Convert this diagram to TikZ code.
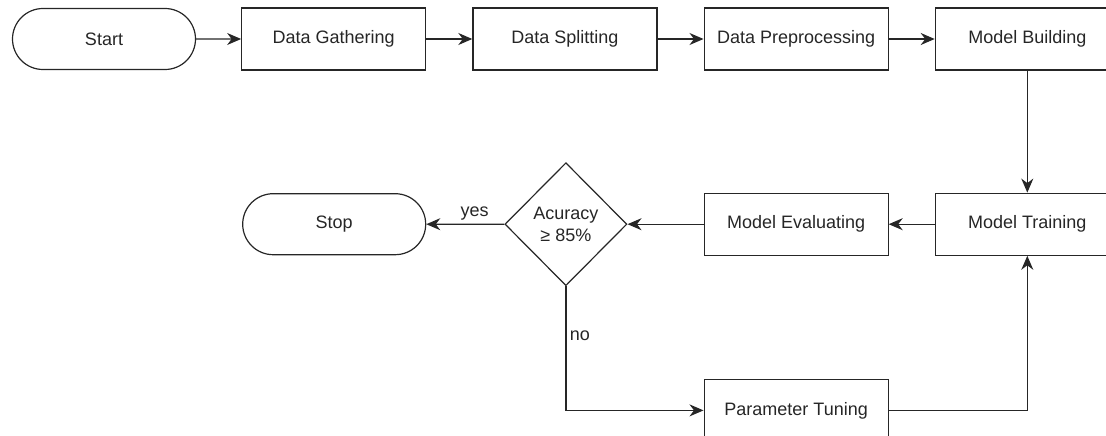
\documentclass[tikz,border=0pt]{standalone}
\usepackage{fontspec}
\setmainfont{Liberation Sans}
\usepackage{tikz}
\usetikzlibrary{arrows.meta,shapes,positioning}

\begin{document}
\begin{tikzpicture}[x=1pt, y=-1pt, font=\fontsize{18}{22}\selectfont]
% STYLES
\tikzset{%
    process/.style={%
    rectangle,
    draw=black!85,
    line width=1.2pt,
    text=black!85,
    inner sep=0pt,
    minimum width=184pt,
    minimum height=62pt}
    }
\tikzset{%
    terminal/.style={%
    rounded rectangle,
    draw=black!85,
    line width=1.2pt,
    text=black!85,
    inner sep=0pt,
    minimum width=183pt,
    minimum height=61pt}
    }
\tikzset{%
    decision/.style={%
    diamond,
    draw=black!85,
    line width=1.2pt,
    text=black!85,
    align=center,
    inner sep=0pt,
    minimum width=122pt,
    minimum height=123pt}
    }
\tikzset{%
    flow/.style={%
    draw=black!85,
    line width=1.2pt,
    -{Stealth[length=14pt,width=12pt,inset=4.5pt]}}
    }
\clip (0,0) rectangle (1106,436);
% Draw steps
\node [terminal] (Start) at (104,39) {Start};
\node [process, right=45pt of Start] (Gathering) {Data Gathering};
\node [process, right=46pt of Gathering] (Splitting) {Data Splitting};
\node [process, right=46pt of Splitting] (Preprocessing) {Data Preprocessing};
\node [process, right=46pt of Preprocessing] (Building) {Model Building};
\node [process, below=122pt of Building] (Training) {Model Training};
\node [process, left=46pt of Training] (Evaluating) {Model Evaluating};
\node [decision, left=76pt of Evaluating] (Accuracy) {Acuracy\\≥ 85\%};
\node [terminal, left=78pt of Accuracy] (Stop) {Stop};
\node [process, below=123pt of Evaluating] (Tuning) {Parameter Tuning};

% Draw the links between steps
\path[every edge/.style={flow}]
(Start) edge (Gathering)
(Gathering) edge (Splitting)
(Splitting) edge (Preprocessing)
(Preprocessing) edge (Building)
(Building) edge (Training)
(Training) edge (Evaluating)
(Evaluating) edge (Accuracy)
(Accuracy) edge node [pos=0.38, above, text=black!85] {yes} (Stop);
\draw[flow] (Accuracy.south) |- node [pos=0.2, right, text=black!85] {no} (Tuning.west);
\draw[flow] (Tuning.east) -| (Training.south);

\end{tikzpicture}
\end{document}
